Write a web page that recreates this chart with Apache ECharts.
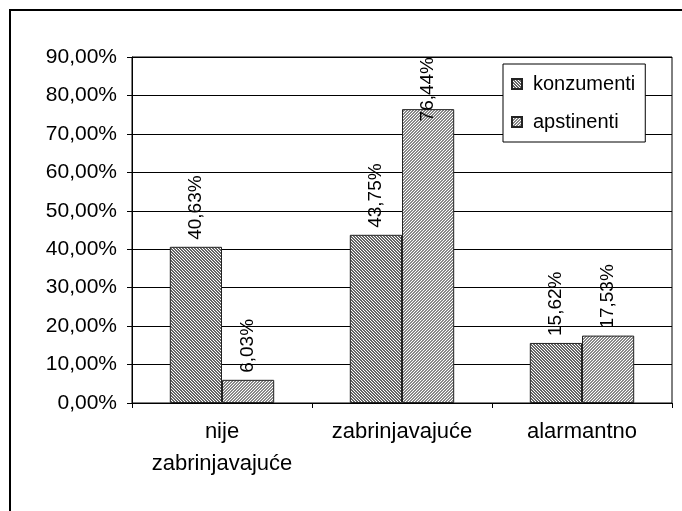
<!DOCTYPE html>
<html>
<head>
<meta charset="utf-8">
<script src="https://cdn.jsdelivr.net/npm/echarts@6/dist/echarts.min.js"></script>
<style>
  html, body { margin: 0; padding: 0; background: #fff; }
  #chart { width: 682px; height: 511px; }
</style>
</head>
<body>
<div id="chart"></div>
<script>
const categories = ['nije\nzabrinjavajuće', 'zabrinjavajuće', 'alarmantno'];
const seriesNames = ['konzumenti', 'apstinenti'];
const konzumenti = [40.63, 43.75, 15.62];
const apstinenti = [6.03, 76.44, 17.53];
const yTicks = { min: 0, max: 90, interval: 10 };

const FONT = '"Liberation Sans", Arial, sans-serif';
const PLOT_TOP = 57;

// small diagonal hatch tile, dir 1 = "\", dir -1 = "/"
function hatch(dir, ink) {
    const n = 3;
    const c = document.createElement('canvas');
    c.width = n;
    c.height = n;
    const ctx = c.getContext('2d');
    ctx.fillStyle = '#fff';
    ctx.fillRect(0, 0, n, n);
    ctx.fillStyle = ink;
    for (let x = 0; x < n; x++) {
        for (let y = 0; y < n; y++) {
            const k = dir > 0 ? (x - y + n) % n : (x + y) % n;
            if (k < 2) ctx.fillRect(x, y, 1, 1);
        }
    }
    return { image: c, repeat: 'repeat' };
}

function pct(v) {
    return v.toFixed(2).replace('.', ',') + '%';
}

const chart = echarts.init(document.getElementById('chart'));

const labelStyle = {
    show: true,
    position: 'top',
    rotate: 90,
    align: 'left',
    verticalAlign: 'middle',
    distance: 7,
    color: '#000',
    fontFamily: FONT,
    fontSize: 19,
    formatter: p => pct(p.value)
};

const option = {
    animation: false,
    backgroundColor: '#fff',
    textStyle: { fontFamily: FONT },
    graphic: [
        {
            type: 'rect',
            shape: { x: 10, y: 10, width: 720, height: 560 },
            style: { fill: 'none', stroke: '#000', lineWidth: 2 },
            silent: true
        }
    ],
    grid: {
        left: 132,
        right: 10,
        top: PLOT_TOP,
        bottom: 108,
        show: true,
        borderColor: '#000',
        borderWidth: 1
    },
    legend: {
        data: seriesNames,
        orient: 'vertical',
        left: 503,
        top: 64,
        padding: [10, 10, 10, 8],
        itemGap: 18,
        itemWidth: 10,
        itemHeight: 10,
        icon: 'rect',
        backgroundColor: '#fff',
        borderColor: '#000',
        borderWidth: 1,
        textStyle: { fontFamily: FONT, fontSize: 20, color: '#000', padding: [0, 0, 0, 6] }
    },
    xAxis: {
        type: 'category',
        data: categories,
        axisLine: { lineStyle: { color: '#000', width: 1 } },
        axisTick: { show: true, length: 5, lineStyle: { color: '#000' } },
        axisLabel: {
            color: '#000',
            fontFamily: FONT,
            fontSize: 22,
            lineHeight: 32,
            margin: 13,
            interval: 0
        }
    },
    yAxis: {
        type: 'value',
        min: yTicks.min,
        max: yTicks.max,
        interval: yTicks.interval,
        axisLine: { show: true, lineStyle: { color: '#000', width: 1 } },
        axisTick: { show: true, length: 5, lineStyle: { color: '#000' } },
        axisLabel: {
            color: '#000',
            fontFamily: FONT,
            fontSize: 21,
            margin: 15,
            formatter: v => pct(v)
        },
        splitLine: { show: true, lineStyle: { color: '#000', width: 1 } }
    },
    // keep rotated value labels inside the plot area, like the original
    labelLayout: function (params) {
        const r = params.labelRect;
        if (r.y < PLOT_TOP) {
            return { y: PLOT_TOP + r.height };
        }
        return {};
    },
    series: [
        {
            name: seriesNames[0],
            type: 'bar',
            data: konzumenti,
            barWidth: '29%',
            barGap: '0%',
            itemStyle: { color: hatch(1, '#666'), borderColor: '#222', borderWidth: 1 },
            label: labelStyle
        },
        {
            name: seriesNames[1],
            type: 'bar',
            data: apstinenti,
            barWidth: '29%',
            barGap: '0%',
            itemStyle: { color: hatch(-1, '#888'), borderColor: '#222', borderWidth: 1 },
            label: labelStyle
        }
    ]
};

chart.setOption(option);
</script>
</body>
</html>
